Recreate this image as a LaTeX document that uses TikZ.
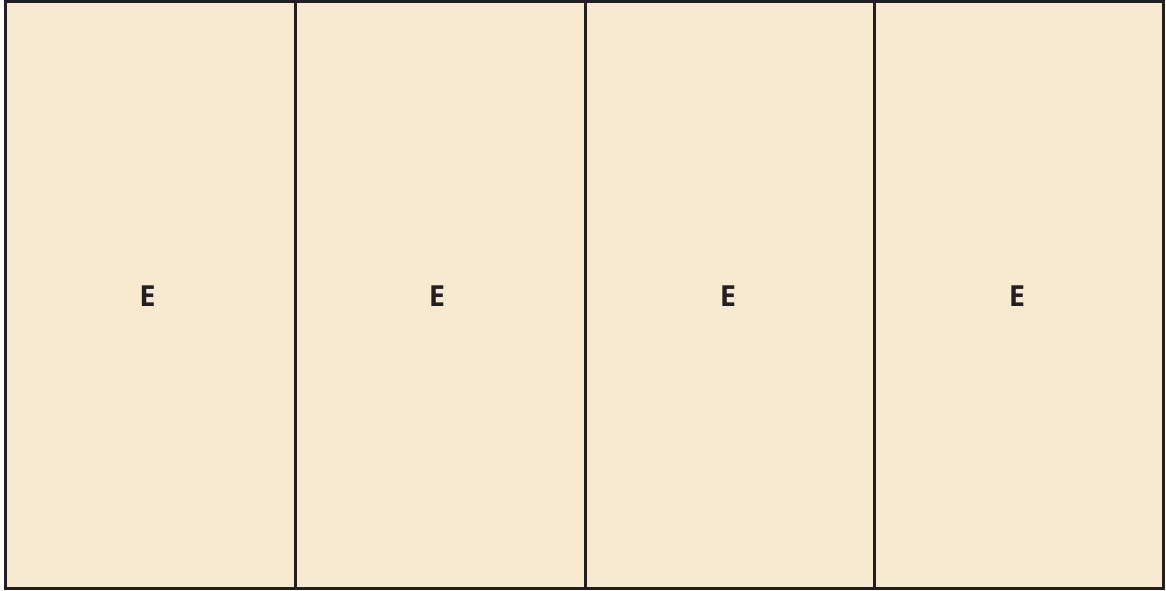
\documentclass[tikz,border=0pt]{standalone}
\usepackage{fontspec}
\setmainfont{Open Sans}
\definecolor{cellfill}{HTML}{F8E9D1}
\definecolor{ink}{HTML}{231F20}
\tikzset{
  cellline/.style={draw=ink, line width=3pt},
  letter/.style={font=\fontsize{29}{30}\selectfont\bfseries, text=ink, inner sep=0pt, anchor=center}
}
\begin{document}
\begin{tikzpicture}[x=1pt,y=-1pt]
\useasboundingbox (0,0) rectangle (1166,590);
\fill[cellfill] (5.5,1) rectangle (1163.5,588.5);
\draw[cellline] (5.5,1) rectangle (1163.5,588.5);
\draw[cellline] (295.5,1) -- (295.5,588.5);
\draw[cellline] (585.5,1) -- (585.5,588.5);
\draw[cellline] (874.5,1) -- (874.5,588.5);
\node[letter] (e1) at (147.5,296) {E};
\node[letter] (e2) at (437,296) {E};
\node[letter] (e3) at (728,296) {E};
\node[letter] (e4) at (1017,296) {E};
\end{tikzpicture}
\end{document}
